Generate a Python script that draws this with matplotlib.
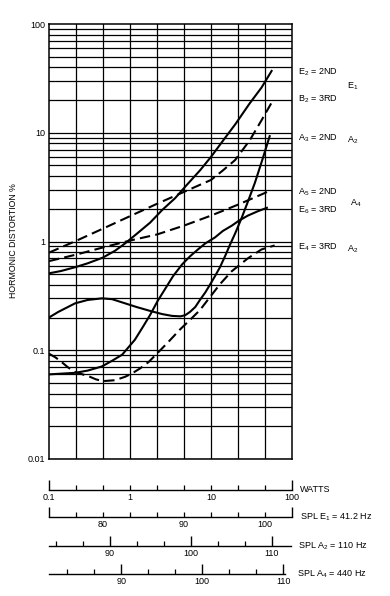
import matplotlib.pyplot as plt
import numpy as np
from matplotlib.ticker import FixedLocator, FixedFormatter

plt.rcParams['font.family'] = ['Liberation Sans', 'DejaVu Sans']
plt.rcParams['mathtext.fontset'] = 'custom'
plt.rcParams['mathtext.rm'] = 'Liberation Sans'
plt.rcParams['mathtext.it'] = 'Liberation Sans'
plt.rcParams['mathtext.default'] = 'regular'

# curves: watts -> harmonic distortion %
e2_w = [0.1, 0.14, 0.21, 0.3, 0.46, 0.65, 0.87, 1.25, 1.77, 2.5, 3.6, 5, 7.3, 10, 14.8, 20, 30, 42, 56]
e2_d = [0.51, 0.535, 0.58, 0.63, 0.71, 0.82, 0.96, 1.2, 1.49, 1.95, 2.5, 3.3, 4.5, 6.0, 8.9, 12, 18.6, 26, 37]

b2_w = [0.1, 0.22, 0.46, 1.0, 2.15, 4.64, 10, 14, 19.8, 30, 42, 58]
b2_d = [0.79, 1.02, 1.31, 1.71, 2.22, 2.86, 3.68, 4.5, 5.6, 8.5, 13, 19.8]

a5_w = [0.1, 0.22, 0.46, 1.0, 2.15, 4.64, 10, 21.5, 53]
a5_d = [0.66, 0.76, 0.88, 1.02, 1.16, 1.40, 1.73, 2.18, 2.92]

a3_w = [0.1, 0.13, 0.21, 0.3, 0.45, 0.6, 0.87, 1.2, 1.77, 2.5, 3.3, 4.2, 4.8, 5.5, 6.4,
        7.3, 8.5, 9.7, 11.2, 12.9, 15, 17, 20, 24, 29, 34.8, 43.7, 53]
a3_d = [0.20, 0.225, 0.27, 0.29, 0.30, 0.295, 0.27, 0.25, 0.23, 0.215, 0.207, 0.205, 0.21, 0.225, 0.25,
        0.29, 0.34, 0.40, 0.48, 0.58, 0.74, 0.92, 1.2, 1.66, 2.4, 3.46, 5.85, 9.3]

e6_w = [0.1, 0.21, 0.3, 0.45, 0.6, 0.80, 1.15, 1.45, 1.77, 2.2, 2.7, 3.4, 4.4, 5.5, 6.9, 8.5,
        11.2, 14, 18.1, 22, 28.5, 38, 49]
e6_d = [0.06, 0.062, 0.065, 0.071, 0.08, 0.091, 0.125, 0.165, 0.211, 0.285, 0.364, 0.48, 0.616, 0.73, 0.845, 0.96,
        1.09, 1.25, 1.40, 1.55, 1.73, 1.9, 2.04]

e4_w = [0.1, 0.12, 0.14, 0.17, 0.21, 0.26, 0.32, 0.38, 0.46, 0.65, 0.87, 1.05, 1.33, 1.7, 2.15,
        3.0, 4.1, 5.5, 7.3, 9.7, 12.9, 18, 28.5, 42, 61]
e4_d = [0.093, 0.086, 0.079, 0.07, 0.063, 0.06, 0.057, 0.054, 0.052, 0.053, 0.057, 0.061, 0.068, 0.078, 0.093,
        0.12, 0.154, 0.19, 0.234, 0.308, 0.405, 0.532, 0.70, 0.845, 0.92]

# bottom scales
watt_major = [0.1, 100]
watt_minor = [0.215, 0.464, 1, 2.15, 4.64, 10, 21.5, 46.4]
watt_minor_lbl = ['', '', '1', '', '', '10', '', '']
e1_major = [73.33, 103.33]
e1_minor = [76.67, 80, 83.33, 86.67, 90, 93.33, 96.67, 100]
e1_minor_lbl = ['', '80', '', '', '90', '', '', '100']
a_major = [90, 100, 110]
a_minor = [83.33, 86.67, 93.33, 96.67, 103.33, 106.67]

W, H = 390, 596
fig = plt.figure(figsize=(W / 100, H / 100), dpi=100)


def fx(px):
    return px / W


def fy(py):
    return 1 - py / H


ax = fig.add_axes([fx(49), fy(459), fx(243), (459 - 24) / H])
ax.set_xscale('log')
ax.set_yscale('log')
ax.set_xlim(0.1, 100)
ax.set_ylim(0.01, 100)

vgrid = [0.215, 0.464, 1, 2.15, 4.64, 10, 21.5, 46.4]
for v in vgrid:
    ax.axvline(v, color='black', lw=0.9)
for dec in [0.01, 0.1, 1, 10]:
    for m in range(1, 10):
        ax.axhline(dec * m, color='black', lw=0.9)

lw = 1.5
ax.plot(e2_w, e2_d, color='black', lw=lw)
ax.plot(b2_w, b2_d, color='black', lw=lw, dashes=(5, 2.5))
ax.plot(a5_w, a5_d, color='black', lw=lw, dashes=(5, 2.5))
ax.plot(a3_w, a3_d, color='black', lw=lw)
ax.plot(e6_w, e6_d, color='black', lw=lw)
ax.plot(e4_w, e4_d, color='black', lw=lw, dashes=(5, 2.5))

ax.set_yticks([0.01, 0.1, 1, 10, 100])
ax.set_yticklabels(['0.01', '0.1', '1', '10', '100'])
ax.yaxis.set_minor_locator(FixedLocator([]))
ax.xaxis.set_major_locator(FixedLocator([]))
ax.xaxis.set_minor_locator(FixedLocator([]))
ax.tick_params(axis='y', length=0, pad=3, labelsize=6.5)
for s in ax.spines.values():
    s.set_linewidth(1.1)

fig.text(fx(14), fy(241), 'HORMONIC DISTORTION %', rotation=90,
         ha='center', va='center', fontsize=6.3)

fs = 6.5
labels = [
    (298, 72, 'E$_2$ = 2ND'), (347, 86, 'E$_1$'),
    (298, 99, 'B$_2$ = 3RD'),
    (298, 138, 'A$_3$ = 2ND'), (347, 140, 'A$_2$'),
    (298, 192, 'A$_5$ = 2ND'), (350, 203, 'A$_4$'),
    (298, 210, 'E$_6$ = 3RD'),
    (298, 247, 'E$_4$ = 3RD'), (347, 249, 'A$_2$'),
]
for x, y, t in labels:
    fig.text(fx(x), fy(y), t, ha='left', va='center', fontsize=fs)


def scale_axis(y, x0, x1, lim, log, major, major_lbl, minor, minor_lbl, title, tx):
    s = fig.add_axes([fx(x0), fy(y), fx(x1 - x0), 0.02])
    s.patch.set_alpha(0)
    if log:
        s.set_xscale('log')
    s.set_xlim(*lim)
    s.set_yticks([])
    for k in ['top', 'left', 'right']:
        s.spines[k].set_visible(False)
    s.spines['bottom'].set_linewidth(1.0)
    s.xaxis.set_major_locator(FixedLocator(major))
    s.xaxis.set_major_formatter(FixedFormatter(major_lbl))
    s.xaxis.set_minor_locator(FixedLocator(minor))
    s.xaxis.set_minor_formatter(FixedFormatter(minor_lbl))
    s.tick_params(axis='x', which='major', direction='in', length=7, width=1.0,
                  pad=2, labelsize=fs)
    s.tick_params(axis='x', which='minor', direction='in', length=3.5, width=0.9,
                  pad=2, labelsize=fs)
    fig.text(fx(tx), fy(y), title, ha='left', va='center', fontsize=fs)
    return s


scale_axis(490, 49, 292, (0.1, 100), True, watt_major, ['0.1', '100'],
           watt_minor, watt_minor_lbl, 'WATTS', 300)
scale_axis(517, 49, 292, (73.33, 103.33), False, e1_major, ['', ''],
           e1_minor, e1_minor_lbl, 'SPL E$_1$ = 41.2 Hz', 300)
scale_axis(546, 49, 291, (82.5, 112.4), False, a_major, ['90', '100', '110'],
           a_minor, [''] * len(a_minor), 'SPL A$_2$ = 110 Hz', 298)
scale_axis(574, 49, 285, (81.1, 110.2), False, a_major, ['90', '100', '110'],
           a_minor, [''] * len(a_minor), 'SPL A$_4$ = 440 Hz', 297)

fig.savefig('out.png', dpi=100)
